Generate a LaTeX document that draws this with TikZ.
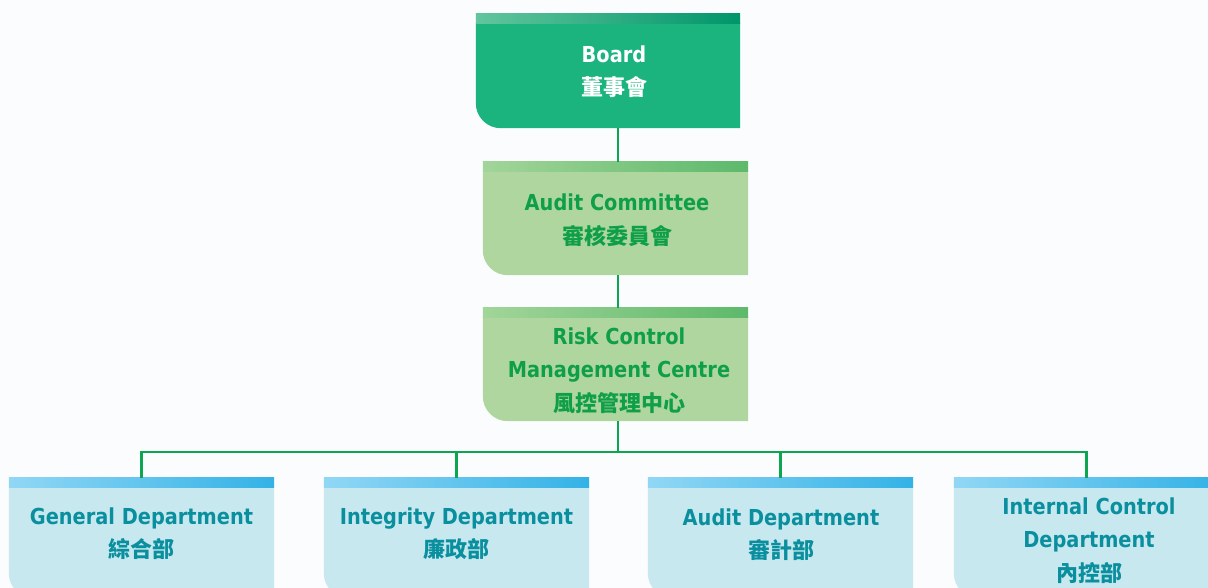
\documentclass[tikz,border=0pt]{standalone}
\usepackage{fontspec}
\setmainfont{DejaVu Sans}[FakeStretch=0.88]
\newfontfamily\cjk{Noto Sans CJK TC}
\definecolor{bgcol}{HTML}{FBFCFE}
\definecolor{boardbody}{HTML}{1BB47F}
\definecolor{boardbarL}{HTML}{62C59D}
\definecolor{boardbarR}{HTML}{00956A}
\definecolor{lgbody}{HTML}{B0D69F}
\definecolor{lgbarL}{HTML}{A2D599}
\definecolor{lgbarR}{HTML}{5DB96B}
\definecolor{lgtext}{HTML}{0E9F48}
\definecolor{blbody}{HTML}{C8E8EF}
\definecolor{blbarL}{HTML}{91D7F5}
\definecolor{blbarR}{HTML}{33B2E6}
\definecolor{bltext}{HTML}{0A8F9F}
\definecolor{linecol}{HTML}{0DA650}
\tikzset{
  orgbox/.style={rectangle, inner sep=0pt, minimum width=265pt},
  txt/.style={align=center, font=\bfseries\fontsize{22}{33.5}\selectfont},
  conn/.style={draw=linecol, line width=2.2pt},
}
\newcommand\cjkline{\cjk\bfseries\fontsize{22}{33.5}\selectfont}
\newcommand\orgshape[4]{%
  \fill[#2] ([yshift=-9pt]#1.north west) -- ([yshift=-9pt]#1.north east)
    -- (#1.south east) -- ([xshift=25pt]#1.south west)
    .. controls ([xshift=11.2pt]#1.south west) and ([yshift=11.2pt]#1.south west)
    .. ([yshift=25pt]#1.south west) -- cycle;
  \shade[left color=#3, right color=#4] (#1.north west) rectangle ([yshift=-10pt]#1.north east);
}
\begin{document}
\begin{tikzpicture}[x=1pt,y=-1pt]
\useasboundingbox (0,0) rectangle (1208,588);
\clip (0,0) rectangle (1208,588);
\fill[bgcol] (0,0) rectangle (1208,588);
% boxes
\node[orgbox, minimum width=264pt, minimum height=114pt] (board) at (608,71) {};
\node[orgbox, minimum height=113pt] (audit) at (615.5,218.5) {};
\node[orgbox, minimum height=113pt] (risk) at (615.5,364.5) {};
\node[orgbox, minimum height=120pt] (general) at (141.5,538) {};
\node[orgbox, minimum height=120pt] (integrity) at (456.5,538) {};
\node[orgbox, minimum height=120pt] (auditdept) at (780.5,538) {};
\node[orgbox, minimum height=120pt] (internal) at (1086.5,538) {};
\orgshape{board}{boardbody}{boardbarL}{boardbarR}
\orgshape{audit}{lgbody}{lgbarL}{lgbarR}
\orgshape{risk}{lgbody}{lgbarL}{lgbarR}
\orgshape{general}{blbody}{blbarL}{blbarR}
\orgshape{integrity}{blbody}{blbarL}{blbarR}
\orgshape{auditdept}{blbody}{blbarL}{blbarR}
\orgshape{internal}{blbody}{blbarL}{blbarR}
% connectors
\coordinate (spine) at (618,0);
\coordinate (bus) at (0,452);
\draw[conn] (board.south -| spine) -- (audit.north -| spine);
\draw[conn] (audit.south -| spine) -- (risk.north -| spine);
\draw[conn] (risk.south -| spine) -- (bus -| spine);
\draw[conn] (general.north) -- (general.north |- bus) -- (internal.north |- bus) -- (internal.north);
\draw[conn] (integrity.north) -- (integrity.north |- bus);
\draw[conn] (auditdept.north) -- (auditdept.north |- bus);
% texts
\node[txt, text=white] (boardtxt) at (614,71.5) {Board\\{\cjkline 董事會}};
\node[txt, text=lgtext] (audittxt) at (617,220) {Audit Committee\\{\cjkline 審核委員會}};
\node[txt, text=lgtext] (risktxt) at (619,370.5) {Risk Control\\Management Centre\\{\cjkline 風控管理中心}};
\node[txt, text=bltext] (generaltxt) at (141.5,533.5) {General Department\\{\cjkline 綜合部}};
\node[txt, text=bltext] (integritytxt) at (456.5,533.5) {Integrity Department\\{\cjkline 廉政部}};
\node[txt, text=bltext] (auditdepttxt) at (781,534.5) {Audit Department\\{\cjkline 審計部}};
\node[txt, text=bltext] (internaltxt) at (1089,540.5) {Internal Control\\Department\\{\cjkline 內控部}};
\end{tikzpicture}
\end{document}
